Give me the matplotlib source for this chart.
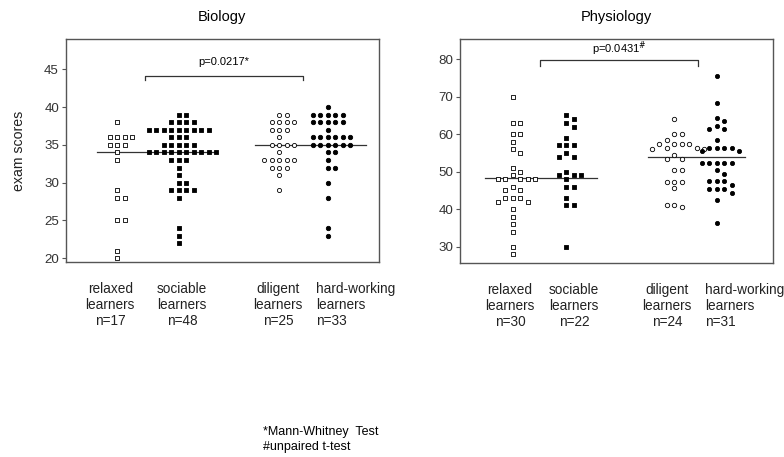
import numpy as np
import matplotlib.pyplot as plt

plt.rcParams['font.family'] = ['Liberation Sans', 'DejaVu Sans']

# exam scores
bio_relaxed = [38, 36, 36, 36, 36, 35, 35, 35, 34, 33, 29, 28, 28, 25, 25, 21, 20]
bio_sociable = [39, 39, 38, 38, 38, 38, 37, 37, 37, 37, 37, 37, 37, 37, 37,
                36, 36, 36, 35, 35, 35, 35, 35, 34, 34, 34, 34, 34, 34, 34, 34, 34, 34,
                33, 33, 33, 32, 31, 30, 30, 29, 29, 29, 29, 28, 24, 23, 22]
bio_diligent = [39, 39, 38, 38, 38, 38, 37, 37, 37, 36, 35, 35, 35, 35, 34,
                33, 33, 33, 33, 33, 32, 32, 32, 31, 29]
bio_hard = [40, 39, 39, 39, 39, 39, 38, 38, 38, 38, 38, 37, 36, 36, 36, 36, 36, 36,
            35, 35, 35, 35, 35, 35, 34, 34, 33, 32, 32, 30, 28, 24, 23]

phy_relaxed = [70, 63, 63, 60, 60, 58, 56, 55, 51, 50, 49, 48, 48, 48, 48, 48,
               46, 45, 45, 43, 43, 43, 42, 42, 40, 38, 36, 34, 30, 28]
phy_sociable = [65, 64, 63, 62, 59, 57, 57, 57, 55, 54, 54, 50, 49, 49, 49, 48,
                46, 46, 43, 41, 41, 30]
phy_diligent = [64, 60, 60, 58.5, 57.4, 57.4, 57.4, 57.4, 56.3, 56.3, 56, 56, 54.5,
                53.3, 53.3, 50.5, 50.5, 47.3, 47.3, 47.3, 45.7, 41, 40.5, 41]
phy_hard = [75.4, 68.3, 64.3, 63.4, 62.2, 61.3, 61.3, 58.5, 56.3, 56.3, 56.3, 56.3,
            55.4, 55.4, 52.3, 52.3, 52.3, 52.3, 52.3, 50.5, 49.3, 47.4, 47.4, 47.4,
            46.3, 45.3, 45.3, 45.3, 44.3, 42.3, 36.4]

bio_medians = [34, 35]
phy_medians = [48.3, 53.8]
bio_labels = ['relaxed\nlearners\nn=17', 'sociable\nlearners\nn=48',
              'diligent\nlearners\nn=25', 'hard-working\nlearners\nn=33']
phy_labels = ['relaxed\nlearners\nn=30', 'sociable\nlearners\nn=22',
              'diligent\nlearners\nn=24', 'hard-working\nlearners\nn=31']
bio_p = 'p=0.0217*'
phy_p = 'p=0.0431$^{\\#}$'

W, H = 784, 457
fig = plt.figure(figsize=(W / 100, H / 100), dpi=100)
ax1 = fig.add_axes([66 / W, 1 - 262 / H, 313 / W, 223 / H])
ax2 = fig.add_axes([460 / W, 1 - 263 / H, 313 / W, 224 / H])


def swarm(values, center, ax, step=7.5, diam=5.8):
    # simple dot-plot layout: 0, +1, -1, +2, ... until no overlap
    x0, x1 = ax.get_xlim()
    y0, y1 = ax.get_ylim()
    pos = ax.get_position()
    px_x = pos.width * W / (x1 - x0)
    px_y = pos.height * H / (y1 - y0)
    placed = []
    xs = []
    for v in values:
        y = v * px_y
        k = 0
        while True:
            off = (k + 1) // 2 * (1 if k % 2 else -1)
            x = off * step
            if all((x - a) ** 2 + (y - b) ** 2 >= diam ** 2 for a, b in placed):
                break
            k += 1
        placed.append((x, y))
        xs.append(center + x / px_x)
    return xs


def panel(ax, groups, centers, styles, ylim, yticks, medians, med_spans,
          bracket, ptext, labels, label_x):
    ax.set_xlim(0, 10)
    ax.set_ylim(*ylim)
    for vals, c, (mk, fc, s) in zip(groups, centers, styles):
        xs = swarm(vals, c, ax)
        ax.scatter(xs, vals, marker=mk, s=s, facecolor=fc, edgecolor='black',
                   linewidths=0.6, zorder=3)
    for m, (a, b) in zip(medians, med_spans):
        ax.plot([a, b], [m, m], color='#333333', lw=0.9, zorder=2)
    bx0, bx1, by0, by1, ty = bracket
    ax.plot([bx0, bx0, bx1, bx1], [by0, by1, by1, by0], color='#333333', lw=0.9)
    ax.text((bx0 + bx1) / 2, ty, ptext, ha='center', va='center', fontsize=8)
    ax.set_yticks(yticks)
    ax.set_xticks([])
    for t, lx in zip(labels, label_x):
        ha = 'left' if t.startswith('hard') else 'center'
        ax.text(lx, -0.193, t, transform=ax.get_xaxis_transform(), ha=ha,
                va='center', multialignment=ha, fontsize=9.8, color='#222222')
    ax.tick_params(axis='y', length=3, width=0.8, color='#555555',
                   labelsize=9.6, labelcolor='#333333', pad=2)
    for sp in ax.spines.values():
        sp.set_color('#555555')
        sp.set_linewidth(1.0)


panel(ax1, [bio_relaxed, bio_sociable, bio_diligent, bio_hard],
      [1.63, 3.61, 6.81, 8.37],
      [('s', 'white', 11), ('s', 'black', 11), ('o', 'white', 9), ('o', 'black', 10)],
      (19.5, 49), [20, 25, 30, 35, 40, 45], bio_medians,
      [(0.99, 4.79), (6.04, 9.58)],
      (2.52, 7.57, 43.6, 44.15, 45.9), bio_p, bio_labels,
      [1.41, 3.71, 6.77, 7.99])

panel(ax2, [phy_relaxed, phy_sociable, phy_diligent, phy_hard],
      [1.69, 3.39, 6.84, 8.21],
      [('s', 'white', 10), ('s', 'black', 12), ('o', 'white', 10), ('o', 'black', 9)],
      (25.6, 85.4), [30, 40, 50, 60, 70, 80], phy_medians,
      [(0.80, 4.38), (6.0, 9.1)],
      (2.56, 7.6, 78.1, 79.7, 82.7), phy_p, phy_labels,
      [1.60, 3.64, 6.61, 7.83])

ax1.set_ylabel('exam scores', fontsize=10.2, color='#222222', labelpad=13)

fig.text(222 / W, 1 - 17 / H, 'Biology', ha='center', va='center', fontsize=10.5)
fig.text(616 / W, 1 - 17 / H, 'Physiology', ha='center', va='center', fontsize=10.5)
fig.text(263 / W, 1 - 432 / H, '*Mann-Whitney  Test', va='center', fontsize=9)
fig.text(263 / W, 1 - 447 / H, '#unpaired t-test', va='center', fontsize=9)

fig.savefig('out.png', dpi=100)
